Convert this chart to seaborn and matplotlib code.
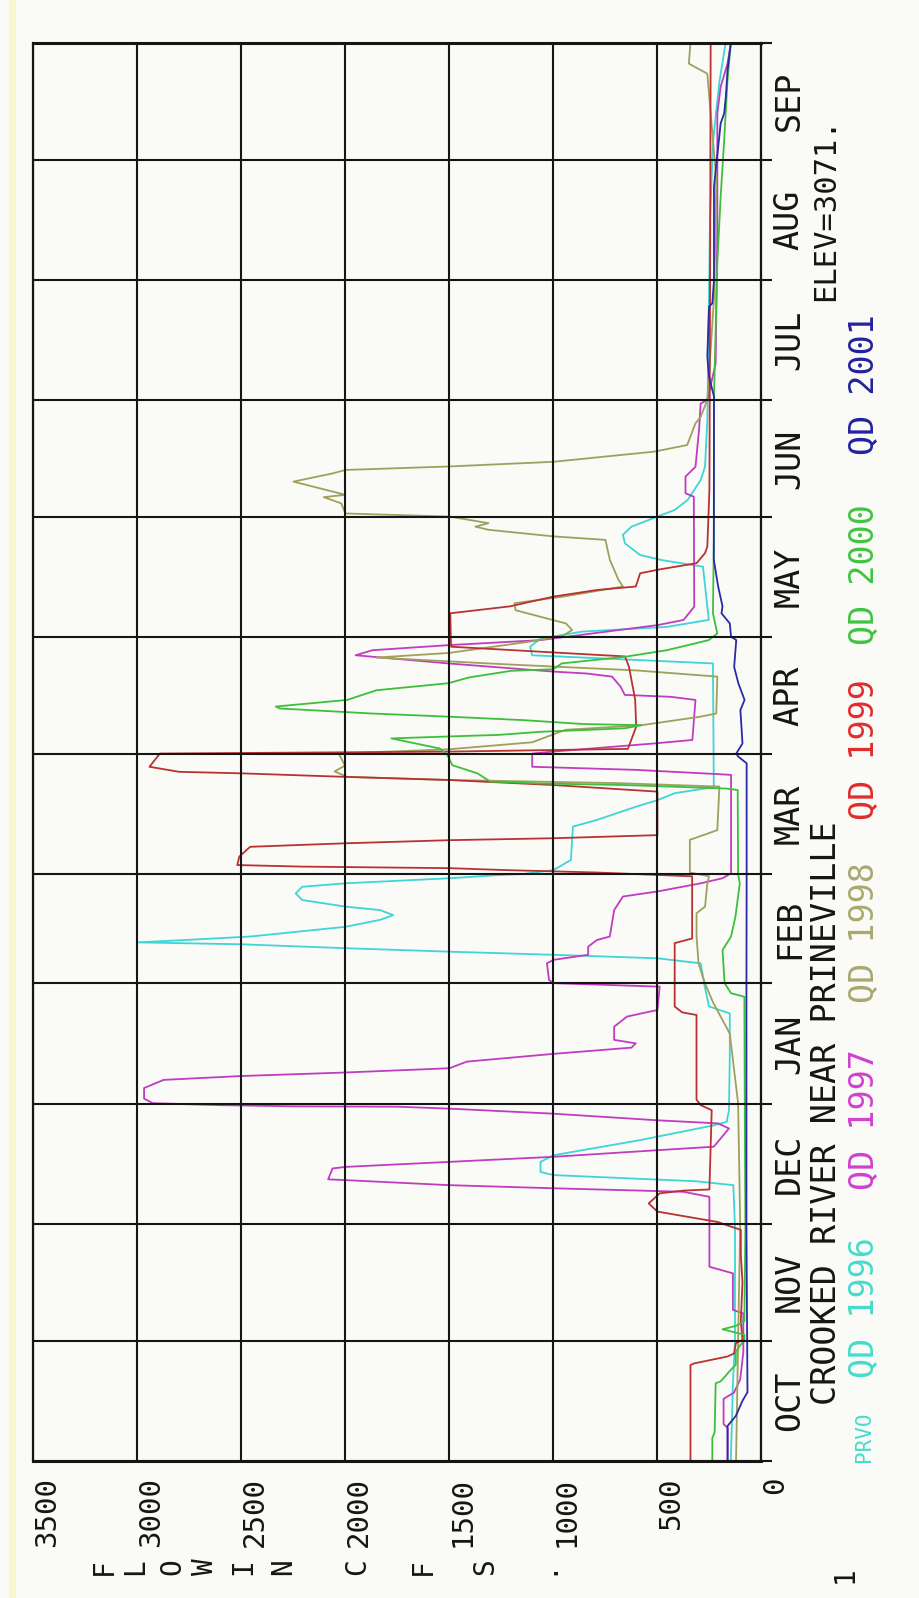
import matplotlib
matplotlib.use("Agg")
import matplotlib.pyplot as plt
import seaborn as sns
import pandas as pd
from matplotlib.ticker import FixedLocator, FixedFormatter, NullFormatter
from matplotlib.patches import Rectangle

# ---------------- data (day of water year, flow in cfs) ----------------
MONTHS = ["OCT", "NOV", "DEC", "JAN", "FEB", "MAR", "APR", "MAY", "JUN", "JUL", "AUG", "SEP"]
MONTH_START = [0, 31, 61, 92, 123, 151, 182, 212, 243, 273, 304, 335, 365]
FLOW_TICKS = [0, 500, 1000, 1500, 2000, 2500, 3000, 3500]
FLOW_LABELS = ["0", "500", "1000", "1500", "2000", "2500", "3000", "3500"]

day_1996 = [0, 20, 31, 60, 71, 72, 73.6, 74.4, 77, 78.7, 82.6, 86.4, 87.3, 90.3, 104, 115.2, 117, 122, 128.1,
            129.4, 130.3, 131.1, 132, 133, 133.5, 134.1, 135, 137.5, 139.3, 140.5, 141.8, 142.7, 144.4, 146.1,
            147.8, 148.7, 150, 150.8, 151.1, 152.1, 154.7, 163.3, 165, 168.4, 170.1, 171.9, 173.1, 173.6, 205.3,
            207.4, 209.6, 211.7, 213.5, 214.7, 216.5, 230.2, 231.9, 233.2, 236.2, 238.4, 240.5, 243.1, 244.8,
            247.4, 252.5, 256, 268, 300, 320, 340, 355, 365]
q_1996 = [145, 135, 125, 125, 133, 310, 998, 1060, 1060, 998, 581, 227, 165, 154, 150, 150, 250, 270, 290,
          498, 998, 1498, 1998, 2497, 2998, 2768, 2456, 1998, 1831, 1768, 1831, 1998, 2206, 2237,
          2206, 1998, 1498, 1269, 1144, 998, 914, 904, 789, 602, 498, 415, 269, 227, 231,
          1100, 1110, 1060, 857, 453, 251, 279, 477, 581, 654, 664, 623, 498, 415,
          352, 290, 269, 258, 250, 245, 230, 200, 170]

day_1997 = [0, 8.5, 9.5, 16, 17.6, 21, 28, 38, 38.9, 48.3, 50, 68, 69.3, 70.2, 71, 72.3, 72.5, 75.3, 75.7, 77,
            78.3, 80, 80.9, 85.6, 86.9, 87.7, 89.4, 90.7, 91.2, 91.3, 91.6, 92.1, 93.3, 96, 98.1, 99.1, 100,
            101.1, 102.8, 104.8, 106.4, 107.5, 108.4, 111.8, 114.4, 116.1, 122.1, 123, 123.8, 128.1, 129, 130.3,
            132.4, 134.1, 135, 141.8, 145.3, 146.6, 148.7, 150, 151.3, 176.6, 176.8, 177.9, 178.7, 182.1, 182.6,
            184.7, 185.6, 195.9, 196.7, 197.2, 199.3, 201.9, 202.7, 203.2, 205.3, 207.4, 208.7, 210, 211.3,
            215.2, 216.5, 219.9, 248.2, 249.1, 253.4, 255.9, 265.4, 272.2, 273.1, 282.5, 316.8, 346.9, 353.7,
            359.7, 365]
q_1997 = [160, 160, 180, 180, 130, 100, 85, 85, 135, 135, 248, 248, 373, 998, 1498, 1998, 2081, 2060, 1998, 1498,
          998, 498, 227, 154, 206, 498, 998, 1498, 1748, 2248, 2600, 2925, 2966, 2966, 2872, 2497, 1998,
          1498, 1414, 998, 623, 602, 706, 706, 644, 498, 487, 998, 1019, 1029, 998, 831,
          831, 789, 727, 706, 664, 498, 290, 185, 144, 144, 206, 602, 1100, 1100, 1000,
          514, 330, 315, 433, 655, 675, 716, 837, 999, 1504, 1949, 1868, 1504, 1060,
          493, 372, 321, 323, 363, 363, 315, 298, 290, 258, 218, 210, 210, 194,
          161, 145]

day_1998 = [0, 31, 61, 92, 110, 118, 123, 128, 135, 141, 142.7, 148.7, 150.5, 151.5, 159.9, 161.6, 162.4, 173.6,
            174.5, 175.3, 176.1, 177.5, 179, 182.1, 183.2, 185, 188.2, 189.4, 191.6, 192.4, 201.9, 203.5, 205,
            206.8, 208, 211, 212.5, 213.9, 215.6, 217.3, 219, 220.8, 222.5, 225.1, 226.8, 232, 237.1, 238,
            239.7, 240.5, 241.4, 243.1, 243.9, 246.5, 248.1, 248.7, 252.1, 254.2, 255.1, 256, 257.2, 259.8,
            261.5, 267.1, 268.8, 273.1, 300, 330, 346.9, 357.1, 359.7, 365]
q_1998 = [120, 110, 100, 110, 150, 230, 270, 300, 310, 310, 269, 258, 250, 342, 342, 251, 210, 200,
          700, 1500, 1990, 2050, 2000, 2030, 1500, 1100, 940, 574, 291, 215, 210, 600, 1200,
          1850, 1500, 1100, 950, 908, 938, 1060, 1180, 1185, 950, 664, 685, 727, 748, 998,
          1310, 1373, 1310, 1498, 1998, 2018, 2102, 1998, 2248, 2060, 1998, 1498, 998, 516,
          355, 315, 290, 258, 225, 215, 242, 258, 347, 339]

day_1999 = [0, 24.7, 25.1, 26.9, 27.7, 30.3, 31.2, 36, 46, 53, 59.5, 60.7, 61.5, 64.2, 66.3, 68.9, 69.6, 69.9,
            90.3, 91.6, 93, 114.8, 115.5, 117, 133.3, 134.5, 150.5, 151.5, 152.1, 152.6, 153, 153.4, 155.6,
            158.1, 159, 159.8, 160.3, 161.1, 172.3, 174, 175.3, 176.1, 177, 177.4, 178.7, 182.1, 182.6, 183.3,
            189, 196, 204.5, 207.1, 209.6, 218.2, 220, 222.5, 224.2, 225.1, 228.5, 229.4, 231.1, 233.7, 235.4,
            250, 300, 365]
q_1999 = [339, 339, 323, 161, 129, 121, 89, 97, 89, 97, 97, 165, 206, 498, 540, 487, 373, 248,
          237, 290, 310, 310, 380, 415, 415, 331, 331, 800, 1227, 1498, 2206, 2518, 2508,
          2456, 1998, 1498, 998, 498, 498, 999, 1504, 2000, 2495, 2798, 2940, 2890, 1500, 640,
          600, 605, 635, 654, 1490, 1494, 1206, 998, 789, 602, 581, 498, 310, 269, 258,
          248, 245, 242]

day_2000 = [0, 6, 7.3, 20, 20.5, 22, 23, 24.8, 28.2, 30, 31, 32.5, 33.9, 34.8, 36, 60, 92, 119.5, 120.4, 123,
            131.5, 135, 140.1, 148.7, 151, 172.7, 173.1, 174, 174.4, 174.9, 177, 179.1, 181.3, 182.1, 183.4,
            186, 186.5, 186.9, 187.7, 188.6, 189.4, 189.7, 190.7, 191.6, 192.4, 193.7, 194.2, 195.9, 198.4,
            200.2, 201.7, 203.4, 203.8, 205.3, 207, 208.7, 211.3, 213, 218.2, 239.7, 274, 308.3, 325.4, 340,
            355.4, 365]
q_2000 = [234, 234, 223, 218, 194, 169, 153, 121, 121, 97, 80, 80, 185, 120, 80, 75, 78, 80, 144, 175,
          185, 144, 123, 102, 110, 112, 170, 655, 1060, 1302, 1363, 1484, 1504, 1514, 1545,
          1777, 1500, 1262, 1060, 655, 574, 857, 1140, 1504, 1868, 2313, 2333, 1990, 1848,
          1504, 1403, 1201, 999, 958, 655, 453, 251, 210, 231, 226, 226, 210, 194, 177,
          161, 145]

day_2001 = [0, 9, 11.6, 15.5, 17.7, 60, 120, 151.3, 179.6, 181.3, 182.1, 184.7, 193.3, 195.9, 200.2, 204.4,
            211.3, 212.2, 215.6, 218.2, 220, 225.1, 232, 274, 279.1, 284.3, 297.1, 298, 304, 328, 344.3, 346.9,
            351.2, 358, 365]
q_2001 = [161, 161, 121, 89, 65, 70, 70, 69, 69, 109, 119, 89, 99, 79, 109, 129,
          119, 144, 150, 190, 185, 206, 227, 226, 250, 258, 250, 234, 226, 226, 194, 177,
          169, 161, 145]

SERIES = ["1996", "1997", "1998", "1999", "2000", "2001"]
LINE_COLORS = ["#3cd6d6", "#c03cc0", "#a0a05e", "#b83232", "#3cc03c", "#2a2aa6"]
TEXT_COLORS = ["#44dccc", "#d040d0", "#a8a86e", "#e02c2c", "#40c440", "#2222a0"]

frames = []
for name, d, q in [("1996", day_1996, q_1996), ("1997", day_1997, q_1997), ("1998", day_1998, q_1998),
                   ("1999", day_1999, q_1999), ("2000", day_2000, q_2000), ("2001", day_2001, q_2001)]:
    frames.append(pd.DataFrame({"day": d, "flow": q, "year": name}))
data = pd.concat(frames, ignore_index=True)

# ---------------- figure ----------------
W, H = 919, 1598
BG = "#fafaf7"
INK = "#151515"
MONO = ["DejaVu Sans Mono", "DejaVu Sans"]

sns.set_style("white")
plt.rcParams["font.family"] = MONO

fig = plt.figure(figsize=(W / 100, H / 100), dpi=100, facecolor=BG)
fig.patches.append(Rectangle((9 / W, 0), 7 / W, 1, transform=fig.transFigure,
                             facecolor="#fbf5cc", edgecolor="none", zorder=0))

ax = fig.add_axes([33 / W, 1 - 1461 / H, 728 / W, 1418 / H])
ax.set_facecolor(BG)

sns.lineplot(data=data, x="flow", y="day", hue="year", hue_order=SERIES,
             palette=dict(zip(SERIES, LINE_COLORS)), sort=False, estimator=None,
             orient="y", legend=False, lw=1.3, ax=ax)

ax.set_xlim(3500, 0)
ax.set_ylim(0, 365)
ax.set_xlabel("")
ax.set_ylabel("")

# flow axis (bottom)
ax.xaxis.set_major_locator(FixedLocator(FLOW_TICKS))
ax.xaxis.set_major_formatter(FixedFormatter(FLOW_LABELS))
ax.tick_params(axis="x", direction="out", length=7.5, width=1.5, color=INK, pad=4,
               labelsize=21, labelcolor=INK)
for lab in ax.get_xticklabels():
    lab.set_rotation(90)
    lab.set_ha("left")
    lab.set_va("top")

# time axis (right)
ax.yaxis.tick_right()
ax.yaxis.set_major_locator(FixedLocator(MONTH_START))
ax.yaxis.set_major_formatter(NullFormatter())
centers = [(MONTH_START[i] + MONTH_START[i + 1]) / 2 for i in range(12)]
ax.yaxis.set_minor_locator(FixedLocator(centers))
ax.yaxis.set_minor_formatter(FixedFormatter(MONTHS))
ax.tick_params(axis="y", which="major", direction="out", length=8, width=1.5, color=INK,
               left=False, right=True, labelleft=False, labelright=False)
ax.tick_params(axis="y", which="minor", length=0, pad=8.5, left=False, right=True,
               labelleft=False, labelright=True, labelsize=24, labelcolor=INK)
for lab in ax.get_yticklabels(minor=True):
    lab.set_rotation(90)
    lab.set_va("center")

ax.grid(True, which="major", color=INK, lw=1.5)
ax.set_axisbelow(False)
for s in ax.spines.values():
    s.set_color(INK)
    s.set_linewidth(1.6)
ax.spines["bottom"].set_linewidth(2.2)
ax.spines["top"].set_linewidth(2.2)


def fx(x):
    return x / W


def fy(y):
    return 1 - y / H


# station / elevation line
fig.text(fx(826), fy(1405), "CROOKED RIVER NEAR PRINEVILLE", rotation=90, ha="center", va="bottom",
         fontsize=24, color=INK)
fig.text(fx(826), fy(301), "ELEV=3071.", rotation=90, ha="center", va="bottom", fontsize=22, color=INK)

# legend line
fig.text(fx(864), fy(1462), "PRVO", rotation=90, ha="center", va="bottom", fontsize=15,
         color=TEXT_COLORS[0])
legend_starts = [1378, 1190, 1003, 820, 645, 455]
for name, col, y0 in zip(SERIES, TEXT_COLORS, legend_starts):
    fig.text(fx(864), fy(y0), "QD " + name, rotation=90, ha="center", va="bottom", fontsize=24, color=col)

# y-label, stacked characters
label_chars = ["F", "L", "O", "W", "I", "N", "C", "F", "S", "."]
label_x = [104, 135, 172, 205, 243, 283, 357, 423, 485, 544]
for ch, x in zip(label_chars, label_x):
    fig.text(fx(x), fy(1567), ch, rotation=90, ha="center", va="center", fontsize=20, color=INK)
fig.text(fx(845), fy(1575), "1", rotation=90, ha="center", va="center", fontsize=20, color=INK)

fig.savefig("out.png", dpi=100, facecolor=BG)
